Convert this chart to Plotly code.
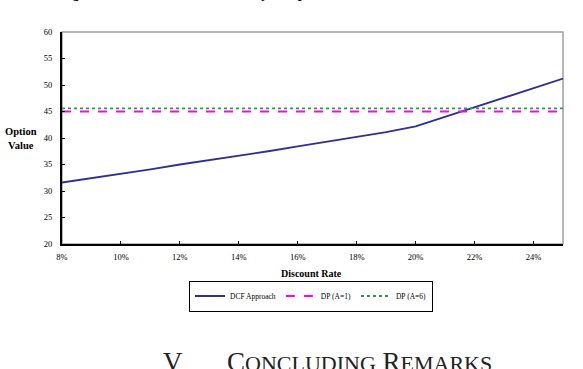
import plotly.graph_objects as go

# Data
rates = [8, 9, 10, 11, 12, 13, 14, 15, 16, 17, 18, 19, 20, 21, 22, 23, 24, 25]
dcf = [31.6, 32.4, 33.3, 34.1, 35.0, 35.8, 36.7, 37.5, 38.4, 39.3, 40.2, 41.1, 42.2,
       44.0, 45.8, 47.6, 49.4, 51.2]
dp_a1 = [45.0] * len(rates)
dp_a6 = [45.6] * len(rates)
x_ticks = [8, 10, 12, 14, 16, 18, 20, 22, 24]
y_ticks = [20, 25, 30, 35, 40, 45, 50, 55, 60]

FONT = "Liberation Serif"
W, H = 583, 369
ML, MR, MT, MB = 62, 20, 32, 125
PW, PH = W - ML - MR, H - MT - MB


def px(xp):
    return (xp - ML) / PW


def py(yp):
    return (MT + PH - yp) / PH


fig = go.Figure()
fig.add_trace(go.Scatter(x=rates, y=dcf, mode="lines", name="DCF Approach",
                         line=dict(color="#2e2e96", width=1.8)))
fig.add_trace(go.Scatter(x=rates, y=dp_a1, mode="lines", name="DP (A=1)",
                         line=dict(color="#ff00ff", width=1.8, dash="dash")))
fig.add_trace(go.Scatter(x=rates, y=dp_a6, mode="lines", name="DP (A=6)",
                         line=dict(color="#2e9a3e", width=1.8, dash="dot")))

fig.update_layout(
    width=W, height=H,
    margin=dict(l=ML, r=MR, t=MT, b=MB),
    paper_bgcolor="white", plot_bgcolor="white",
    font=dict(family=FONT, color="black"),
    showlegend=True,
    legend=dict(orientation="h", x=px(311), y=py(296), xanchor="center", yanchor="middle",
                bordercolor="black", borderwidth=1, font=dict(size=7.5, family=FONT, color="black"),
                bgcolor="white", tracegroupgap=0, itemwidth=30),
    xaxis=dict(range=[8, 25], tickvals=x_ticks, ticktext=[f"{v}%" for v in x_ticks],
               showgrid=False, zeroline=False, showline=True, linecolor="black", linewidth=2,
               ticks="inside", ticklen=3, tickcolor="black", ticklabelstandoff=4,
               tickfont=dict(size=8.5, family=FONT, color="black")),
    yaxis=dict(range=[20, 60], tickvals=y_ticks, showgrid=False, zeroline=False,
               showline=True, linecolor="black", linewidth=2,
               ticks="inside", ticklen=3, tickcolor="black", ticklabelstandoff=6,
               tickfont=dict(size=8.5, family=FONT, color="black")),
    shapes=[dict(type="rect", xref="paper", yref="paper", x0=0, x1=1, y0=0, y1=1,
                 line=dict(color="#a0a0a0", width=1.5), layer="below")],
    annotations=[
        dict(text="<b>Discount Rate</b>", xref="paper", yref="paper", x=px(311), y=py(273),
             xanchor="center", yanchor="middle", showarrow=False,
             font=dict(size=10, family=FONT)),
        dict(text="<b>Option<br>Value</b>", xref="paper", yref="paper", x=px(21), y=py(138),
             xanchor="center", yanchor="middle", showarrow=False,
             font=dict(size=10.5, family=FONT)),
        dict(text="<b>Figure 6: Discount Rate Sensitivity of Option Value</b>",
             xref="paper", yref="paper", x=px(58), y=py(3), xanchor="left", yanchor="bottom",
             showarrow=False, font=dict(size=14, family=FONT)),
        dict(text="V", xref="paper", yref="paper", x=px(161), y=py(345),
             xanchor="left", yanchor="top", showarrow=False,
             font=dict(size=27, family=FONT, color="#222")),
        dict(text="C<span style='font-size:22px'>ONCLUDING</span> R<span style='font-size:22px'>EMARKS</span>",
             xref="paper", yref="paper", x=px(225), y=py(345),
             xanchor="left", yanchor="top", showarrow=False,
             font=dict(size=27, family=FONT, color="#222")),
    ],
)

fig.write_html("out.html")
